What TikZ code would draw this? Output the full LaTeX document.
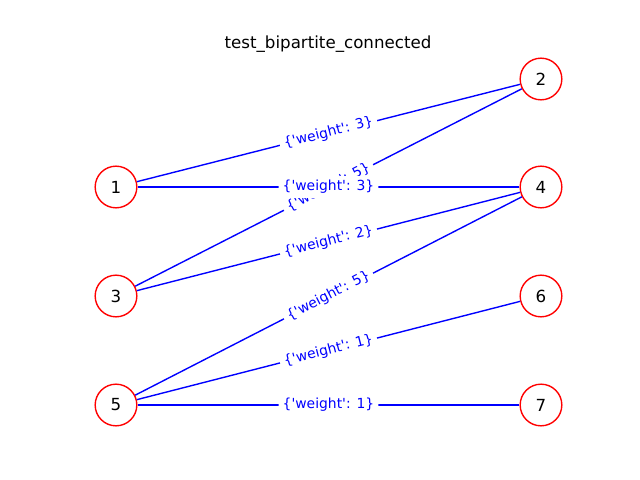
\documentclass[tikz,border=0pt]{standalone}
\usepackage{fontspec}
\setmainfont{DejaVu Sans}
\newfontfamily\dvplain{DejaVu Sans}
\newcommand{\wt}[1]{{\dvplain\{\textquotesingle weight\textquotesingle: #1\}}}
\begin{document}
\begin{tikzpicture}[x=0.72pt,y=-0.72pt,
  vtx/.style={circle,draw=red,fill=white,line width=1pt,minimum size=30pt,inner sep=0pt,font=\fontsize{12}{14}\selectfont},
  edg/.style={blue,line width=1pt},
  lbl/.style={fill=white,text=blue,rounded corners=3pt,inner sep=3pt,font=\fontsize{10}{12}\selectfont,sloped,pos=0.5}]
\useasboundingbox (0,0) rectangle (640,480);
\node[font=\fontsize{12}{14}\selectfont] (title) at (328,44) {test\_bipartite\_connected};
\node[vtx] (n1) at (116,187) {1};
\node[vtx] (n3) at (116,296) {3};
\node[vtx] (n5) at (116,405) {5};
\node[vtx] (n2) at (541,79) {2};
\node[vtx] (n4) at (541,187) {4};
\node[vtx] (n6) at (541,296) {6};
\node[vtx] (n7) at (541,405) {7};
\draw[edg] (n1) -- (n2);
\draw[edg] (n1) -- (n4);
\draw[edg] (n3) -- (n2);
\draw[edg] (n3) -- (n4);
\draw[edg] (n5) -- (n4);
\draw[edg] (n5) -- (n6);
\draw[edg] (n5) -- (n7);
\path (n3) -- node[lbl] {\wt{5}} (n2);
\path (n1) -- node[lbl] {\wt{3}} (n2);
\path (n1) -- node[lbl] {\wt{3}} (n4);
\path (n3) -- node[lbl] {\wt{2}} (n4);
\path (n5) -- node[lbl] {\wt{5}} (n4);
\path (n5) -- node[lbl] {\wt{1}} (n6);
\path (n5) -- node[lbl] {\wt{1}} (n7);
\end{tikzpicture}
\end{document}
